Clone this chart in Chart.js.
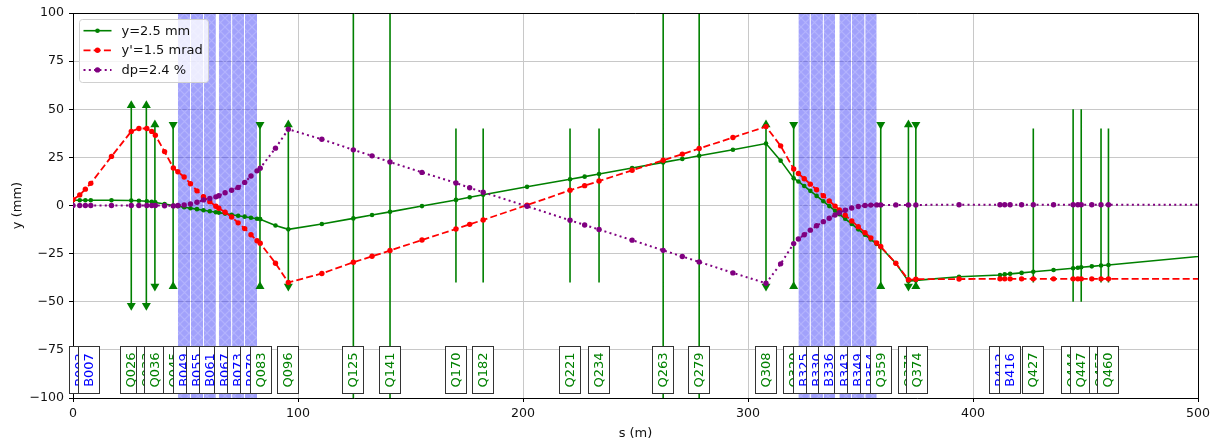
<!DOCTYPE html>
<html>
<head>
<meta charset="utf-8">
<script src="https://cdn.jsdelivr.net/npm/chart.js@4.4.1/dist/chart.umd.min.js"></script>
<style>
html, body { margin: 0; padding: 0; background: #fff; }
#orbit { display: block; }
</style>
</head>
<body>
<canvas id="orbit" width="1219" height="443"></canvas>
<script>
/* ORBIT DATA (s in m, offsets in mm) */
const sPos = [
    0, 3.0, 5.5, 7.9, 17.1, 25.9, 29.3, 32.8, 35.0, 36.6, 40.7, 44.6,
    46.6, 49.4, 52.2, 55.1, 58.0, 60.8, 63.5, 64.8, 67.6, 70.5, 73.4, 76.3, 79.1, 81.8, 83.2,
    90.0, 95.7, 110.6, 124.6, 132.9, 140.9, 155.1, 170.2, 176.3, 182.3, 201.8, 220.9, 227.4, 233.8, 248.5, 262.3, 270.8, 278.3, 293.3, 308.0,
    314.5, 320.3, 322.4, 325.0, 327.7, 330.5, 333.5, 336.1, 338.7, 340.6, 343.2, 346.1, 349.0, 352.0, 354.6, 357.2, 359.0, 365.7, 371.3, 374.6,
    393.8, 412.0, 414.1, 416.5, 421.6, 426.8, 435.8, 444.5, 446.6, 448.1, 452.8, 456.9, 460.2, 520.0
];
const yOrbit = [
    2.7, 2.7, 2.7, 2.7, 2.7, 2.6, 2.5, 2.2, 1.9, 1.6, 0.8, 0.0,
    -0.4, -0.9, -1.4, -1.9, -2.5, -3.0, -3.5, -3.7, -4.2, -4.8, -5.3, -5.8, -6.4, -6.9, -7.1,
    -10.4, -12.4, -9.6, -6.7, -4.9, -3.3, -0.3, 2.9, 4.3, 5.6, 9.7, 13.6, 15.0, 16.4, 19.5, 22.4, 24.2, 25.8, 29.0, 32.2,
    23.3, 14.1, 12.5, 10.1, 7.6, 5.0, 2.2, -0.3, -2.7, -4.5, -6.9, -9.6, -12.4, -15.2, -17.6, -20.0, -21.7, -30.0, -39.3, -38.9,
    -37.0, -36.1, -35.8, -35.5, -35.0, -34.4, -33.5, -32.6, -32.3, -32.1, -31.6, -31.2, -30.9, -24.3
];
const ypOrbit = [
    3.0, 5.5, 8.5, 11.5, 25.5, 38.5, 40.0, 40.0, 38.5, 36.5, 28.0, 19.5,
    17.5, 14.8, 11.3, 7.6, 4.6, 2.0, -0.4, -1.4, -3.5, -6.0, -9.0, -12.0, -15.2, -18.3, -19.6,
    -30.0, -40.0, -35.3, -29.5, -26.4, -23.4, -17.9, -12.2, -9.8, -7.5, 0.2, 7.9, 10.3, 12.7, 18.3, 23.5, 26.7, 29.6, 35.3, 41.0,
    31.0, 19.0, 16.6, 13.9, 11.1, 8.2, 5.1, 2.4, -0.3, -2.3, -5.0, -8.0, -11.0, -14.1, -16.8, -19.5, -21.3, -30.0, -38.6, -38.3,
    -38.2, -38.1, -38.1, -38.1, -38.1, -38.1, -38.1, -38.1, -38.1, -38.1, -38.1, -38.1, -38.1, -38.1
];
const dpOrbit = [
    0, 0, 0, 0, 0, 0, 0, 0, 0, 0, -0.1, -0.2,
    0.0, 0.3, 0.8, 1.7, 2.9, 3.7, 4.5, 5.1, 6.6, 7.9, 9.4, 12.0, 15.3, 18.0, 19.4,
    29.8, 39.6, 34.4, 28.9, 25.8, 22.6, 17.2, 11.7, 9.2, 6.9, -0.4, -7.7, -10.1, -12.5, -18.0, -23.3, -26.5, -29.3, -35.0, -40.4,
    -30.3, -19.8, -17.4, -15.2, -12.8, -10.5, -8.4, -6.6, -4.9, -3.8, -2.5, -1.3, -0.5, 0.0, 0.2, 0.3, 0.3, 0.3, 0.3, 0.3,
    0.4, 0.4, 0.4, 0.4, 0.4, 0.4, 0.4, 0.4, 0.4, 0.4, 0.4, 0.4, 0.4, 0.4
];
const seriesLabels = ["y=2.5 mm", "y'=1.5 mrad", "dp=2.4 %"];

/* QUADRUPOLES: position, half extent, arrow direction (1 out, -1 in, 0 none) */
const quadS = [25.9, 32.6, 36.4, 44.5, 83.1, 95.7, 124.6, 140.9, 170.2, 182.3, 220.9, 233.8,
               262.3, 278.3, 308.0, 320.3, 359.0, 371.3, 374.6, 426.8, 444.5, 448.1, 456.9, 460.2];
const quadExtent = [52, 52, 42, 42, 42, 42, 150, 150, 40, 40, 40, 40,
                    150, 150, 42, 42, 42, 42, 42, 40, 50, 50, 40, 40];
const quadDir = [1, 1, 1, -1, -1, 1, 0, 0, 0, 0, 0, 0,
                 0, 0, 1, -1, -1, 1, -1, 0, 0, 0, 0, 0];

/* BENDS */
const bendStart = [46.6, 52.4, 58.1, 64.8, 70.7, 76.4, 322.4, 327.8, 333.6, 340.6, 346.2, 352.1];
const bendEnd   = [52.1, 57.8, 63.5, 70.4, 76.1, 81.8, 327.5, 333.3, 338.7, 345.9, 351.8, 357.2];

/* ELEMENT TAGS */
const labelNames = ["B003", "B007", "Q026", "Q033", "Q036", "Q045", "B049", "B055", "B061", "B067", "B073", "B079",
                    "Q083", "Q096", "Q125", "Q141", "Q170", "Q182", "Q221", "Q234", "Q263", "Q279", "Q308", "Q320",
                    "B325", "B330", "B336", "B343", "B349", "B354", "Q359", "Q371", "Q374", "B412", "B416", "Q427",
                    "Q444", "Q447", "Q457", "Q460"];
const labelS = [3.0, 7.2, 25.9, 33.1, 36.3, 44.7, 49.3, 55.1, 60.8, 67.6, 73.4, 79.1,
                83.5, 95.6, 124.6, 140.9, 170.2, 182.3, 220.9, 233.8, 262.3, 278.3, 308.0, 320.4,
                325.0, 330.5, 336.1, 343.2, 349.0, 354.6, 359.0, 371.4, 374.9, 412.2, 416.4, 426.8,
                444.2, 447.9, 456.6, 460.2];
const labelY = -85.2;

/* STYLE */
const FONT = "'DejaVu Sans', sans-serif";
const GREEN = "#008000";
const RED = "#ff0000";
const PURPLE = "#800080";

function makeHatch() {
    const t = document.createElement("canvas");
    t.width = 9; t.height = 9;
    const g = t.getContext("2d");
    g.fillStyle = "rgba(30,30,245,0.42)";
    g.fillRect(0, 0, 9, 9);
    g.strokeStyle = "rgba(200,200,255,0.5)";
    g.lineWidth = 1.1;
    g.beginPath();
    g.moveTo(-2, -2); g.lineTo(11, 11);
    g.moveTo(11, -2); g.lineTo(-2, 11);
    g.stroke();
    return g.createPattern(t, "repeat");
}
const hatch = makeHatch();

/* DATASETS */
const pts = arr => sPos.map((s, i) => ({ x: s, y: arr[i] }));

const series = [
    { label: seriesLabels[0], data: pts(yOrbit), borderColor: GREEN, backgroundColor: GREEN,
      borderWidth: 1.6, pointRadius: 2.3, pointBorderWidth: 0, order: 2 },
    { label: seriesLabels[1], data: pts(ypOrbit), borderColor: RED, backgroundColor: RED,
      borderWidth: 1.8, borderDash: [7, 3.2], pointRadius: 2.7, pointBorderWidth: 0, order: 1 },
    { label: seriesLabels[2], data: pts(dpOrbit), borderColor: PURPLE, backgroundColor: PURPLE,
      borderWidth: 2, borderDash: [2, 3.3], pointRadius: 2.7, pointBorderWidth: 0, order: 0 }
];

const quadData = [], quadRot = [], quadRad = [];
quadS.forEach((s, i) => {
    quadData.push({ x: s, y: quadExtent[i] }, { x: s, y: -quadExtent[i] }, { x: s, y: null });
    const d = quadDir[i];
    quadRot.push(d > 0 ? 0 : 180, d > 0 ? 180 : 0, 0);
    quadRad.push(d ? 5.2 : 0, d ? 5.2 : 0, 0);
});
const quads = {
    label: "quads", data: quadData, borderColor: GREEN, backgroundColor: GREEN,
    borderWidth: 1.6, pointStyle: "triangle", pointRotation: quadRot, pointRadius: quadRad,
    pointBorderWidth: 0, spanGaps: false, order: 5
};

const bends = bendStart.map((s0, i) => ({
    label: "bend", data: [{ x: s0, y: 100 }, { x: bendEnd[i], y: 100 }],
    borderColor: "transparent", borderWidth: 0, pointRadius: 0,
    fill: "start", backgroundColor: hatch, order: 10
}));

/* PLUGINS */
const elementTags = {
    id: "elementTags",
    afterDatasetsDraw(chart) {
        const { ctx, scales: { x, y } } = chart;
        ctx.save();
        ctx.font = "13px " + FONT;
        ctx.textAlign = "center";
        ctx.textBaseline = "middle";
        labelNames.forEach((name, i) => {
            const px = Math.round(x.getPixelForValue(labelS[i]));
            const py = Math.round(y.getPixelForValue(labelY));
            ctx.fillStyle = "#ffffff";
            ctx.fillRect(px - 10.5, py - 23.5, 21, 47);
            ctx.strokeStyle = "#333333";
            ctx.lineWidth = 1;
            ctx.strokeRect(px - 10.5, py - 23.5, 21, 47);
            ctx.save();
            ctx.translate(px, py);
            ctx.rotate(-Math.PI / 2);
            ctx.fillStyle = name[0] === "B" ? "#0000ff" : GREEN;
            ctx.fillText(name, 0, 1);
            ctx.restore();
        });
        ctx.restore();
    }
};

const frame = {
    id: "frame",
    afterDraw(chart) {
        const { ctx, chartArea: a } = chart;
        ctx.save();
        ctx.strokeStyle = "#000";
        ctx.lineWidth = 1;
        ctx.beginPath();
        ctx.moveTo(Math.round(a.left), Math.round(a.top) + 0.5);
        ctx.lineTo(Math.round(a.right) + 0.5, Math.round(a.top) + 0.5);
        ctx.lineTo(Math.round(a.right) + 0.5, Math.round(a.bottom));
        ctx.stroke();
        ctx.restore();
    }
};

const legendBox = {
    id: "legendBox",
    afterDraw(chart) {
        const { ctx, chartArea: a } = chart;
        const x0 = a.left + 6, y0 = a.top + 6, w = 129, h = 63;
        ctx.save();
        ctx.beginPath();
        ctx.roundRect(x0 + 0.5, y0 + 0.5, w, h, 3);
        ctx.fillStyle = "rgba(255,255,255,0.8)";
        ctx.fill();
        ctx.strokeStyle = "#d0d0d0";
        ctx.lineWidth = 1;
        ctx.stroke();
        ctx.font = "13px " + FONT;
        ctx.textBaseline = "middle";
        series.forEach((ds, i) => {
            const ry = y0 + 11.7 + i * 19.6;
            ctx.strokeStyle = ds.borderColor;
            ctx.lineWidth = ds.borderWidth;
            ctx.setLineDash(ds.borderDash || []);
            ctx.beginPath();
            ctx.moveTo(x0 + 4.5, ry);
            ctx.lineTo(x0 + 32.5, ry);
            ctx.stroke();
            ctx.setLineDash([]);
            ctx.fillStyle = ds.borderColor;
            ctx.beginPath();
            ctx.arc(x0 + 18.5, ry, ds.pointRadius, 0, Math.PI * 2);
            ctx.fill();
            ctx.fillStyle = "#111";
            ctx.fillText(ds.label, x0 + 42.5, ry + 0.5);
        });
        ctx.restore();
    }
};

/* CHART */
new Chart(document.getElementById("orbit"), {
    type: "line",
    data: { datasets: [...series, quads, ...bends] },
    options: {
        responsive: false,
        animation: false,
        devicePixelRatio: 1,
        events: [],
        layout: { padding: { top: 13, right: 21, left: 0, bottom: 0 } },
        plugins: { legend: { display: false }, tooltip: { enabled: false } },
        scales: {
            x: {
                type: "linear", min: 0, max: 500,
                afterFit: s => { s.height = 45; },
                ticks: { stepSize: 100, maxRotation: 0, padding: 4, color: "#111", font: { family: FONT, size: 12.6 } },
                grid: { color: "#c8c8c8", lineWidth: 1, tickLength: 4, tickColor: "#000" },
                border: { color: "#000", width: 1 },
                title: { display: true, text: "s (m)", color: "#111", font: { family: FONT, size: 13 }, padding: { top: 0, bottom: 2 } }
            },
            y: {
                type: "linear", min: -100, max: 100,
                afterFit: s => { s.width = 73; },
                ticks: {
                    stepSize: 25, padding: 5, color: "#111", font: { family: FONT, size: 12.6 },
                    callback: v => String(v).replace("-", "\u2212")
                },
                grid: { color: "#c8c8c8", lineWidth: 1, tickLength: 4, tickColor: "#000" },
                border: { color: "#000", width: 1 },
                title: { display: true, text: "y (mm)", color: "#111", font: { family: FONT, size: 13 }, padding: { top: 10, bottom: 0 } }
            }
        }
    },
    plugins: [elementTags, frame, legendBox]
});
</script>
</body>
</html>
